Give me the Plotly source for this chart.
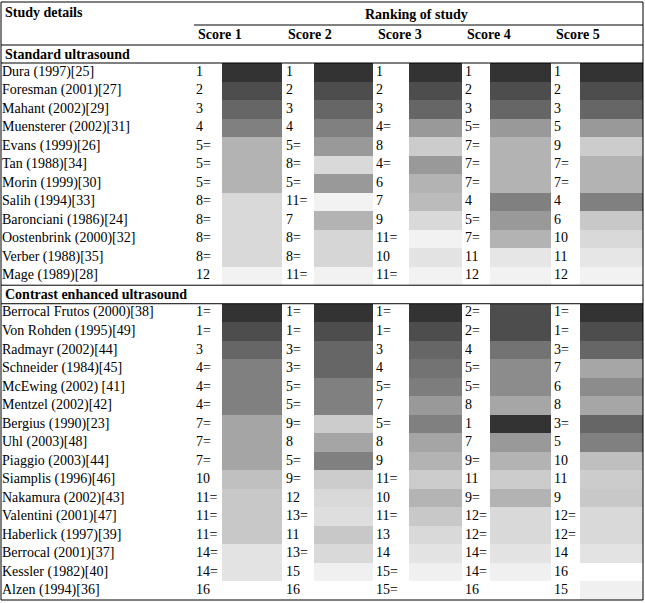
import numpy as np
import plotly.graph_objects as go

# ---- data ----
scores = ["Score 1", "Score 2", "Score 3", "Score 4", "Score 5"]

std_studies = ["Dura (1997)[25]", "Foresman (2001)[27]", "Mahant (2002)[29]", "Muensterer (2002)[31]",
               "Evans (1999)[26]", "Tan (1988)[34]", "Morin (1999)[30]", "Salih (1994)[33]",
               "Baronciani (1986)[24]", "Oostenbrink (2000)[32]", "Verber (1988)[35]", "Mage (1989)[28]"]

std_rank_1 = ["1", "2", "3", "4", "5=", "5=", "5=", "8=", "8=", "8=", "8=", "12"]
std_rank_2 = ["1", "2", "3", "4", "5=", "8=", "5=", "11=", "7", "8=", "8=", "11="]
std_rank_3 = ["1", "2", "3", "4=", "8", "4=", "6", "7", "9", "11=", "10", "11="]
std_rank_4 = ["1", "2", "3", "5=", "7=", "7=", "7=", "4", "5=", "7=", "11", "12"]
std_rank_5 = ["1", "2", "3", "5", "9", "7=", "7=", "4", "6", "10", "11", "12"]

# shading of each cell, as grey level (0 = black, 255 = white)
std_shade_1 = [51, 77, 102, 128, 179, 179, 179, 217, 217, 217, 217, 242]
std_shade_2 = [51, 77, 102, 128, 153, 217, 153, 242, 179, 214, 214, 242]
std_shade_3 = [51, 77, 102, 153, 204, 153, 179, 187, 217, 242, 227, 242]
std_shade_4 = [51, 77, 102, 153, 179, 179, 179, 128, 153, 179, 230, 242]
std_shade_5 = [51, 77, 102, 153, 204, 179, 179, 128, 200, 217, 230, 242]

ceu_studies = ["Berrocal Frutos (2000)[38]", "Von Rohden (1995)[49]", "Radmayr (2002)[44]",
               "Schneider (1984)[45]", "McEwing (2002) [41]", "Mentzel (2002)[42]", "Bergius (1990)[23]",
               "Uhl (2003)[48]", "Piaggio (2003)[44]", "Siamplis (1996)[46]", "Nakamura (2002)[43]",
               "Valentini (2001)[47]", "Haberlick (1997)[39]", "Berrocal (2001)[37]", "Kessler (1982)[40]",
               "Alzen (1994)[36]"]

ceu_rank_1 = ["1=", "1=", "3", "4=", "4=", "4=", "7=", "7=", "7=", "10", "11=", "11=", "11=", "14=", "14=", "16"]
ceu_rank_2 = ["1=", "1=", "3=", "3=", "5=", "5=", "9=", "8", "5=", "9=", "12", "13=", "11", "13=", "15", "16"]
ceu_rank_3 = ["1=", "1=", "3", "4", "5=", "7", "5=", "8", "9", "11=", "10", "11=", "13", "14", "15=", "15="]
ceu_rank_4 = ["2=", "2=", "4", "5=", "5=", "8", "1", "7", "9=", "11", "9=", "12=", "12=", "14=", "14=", "16"]
ceu_rank_5 = ["1=", "1=", "3=", "7", "6", "8", "3=", "5", "10", "11", "9", "12=", "12=", "14", "16", "15"]

ceu_shade_1 = [51, 77, 102, 128, 128, 128, 165, 165, 165, 192, 200, 200, 200, 227, 227, 255]
ceu_shade_2 = [51, 77, 102, 102, 128, 128, 204, 165, 128, 204, 217, 222, 200, 217, 240, 255]
ceu_shade_3 = [51, 77, 102, 115, 125, 153, 128, 165, 179, 204, 180, 200, 217, 227, 240, 255]
ceu_shade_4 = [77, 77, 115, 140, 140, 166, 51, 153, 179, 204, 179, 217, 217, 227, 240, 255]
ceu_shade_5 = [51, 77, 102, 166, 140, 166, 102, 128, 191, 204, 200, 217, 217, 227, 255, 240]

# ---- table assembly ----
W, H = 645, 603
FONT = "Liberation Serif"
FS = 14

std_ranks = [std_rank_1, std_rank_2, std_rank_3, std_rank_4, std_rank_5]
ceu_ranks = [ceu_rank_1, ceu_rank_2, ceu_rank_3, ceu_rank_4, ceu_rank_5]
std_shades = [std_shade_1, std_shade_2, std_shade_3, std_shade_4, std_shade_5]
ceu_shades = [ceu_shade_1, ceu_shade_2, ceu_shade_3, ceu_shade_4, ceu_shade_5]

# rows: standard block, one section header row, contrast block
n_std = len(std_studies)
row_std = list(range(n_std))
row_ceu = [n_std + 1 + i for i in range(len(ceu_studies))]
n_rows = n_std + 1 + len(ceu_studies)

# column layout (pixels): number column start, shaded cell start/end
num_x = [196, 286, 376, 465, 554]
cell_x0 = [222, 314, 409, 490, 580]
cell_x1 = [282, 373, 462, 551, 643]

# heatmap column edges: number column, then shaded column, for each score
edges = []
for k in range(5):
    edges += [num_x[k] if k == 0 else cell_x1[k - 1], cell_x0[k]]
edges.append(cell_x1[-1])

z = np.full((n_rows, 10), np.nan)
for k in range(5):
    for i, r in enumerate(row_std):
        z[r, 2 * k + 1] = std_shades[k][i]
    for i, r in enumerate(row_ceu):
        z[r, 2 * k + 1] = ceu_shades[k][i]

fig = go.Figure()
fig.add_trace(go.Heatmap(
    z=z, x=edges, y=list(range(n_rows)),
    colorscale=[[0, "black"], [1, "white"]], zmin=0, zmax=255,
    showscale=False, hoverinfo="skip"))

# study names
fig.add_trace(go.Scatter(
    x=[2] * (n_std + len(ceu_studies)), y=row_std + row_ceu,
    text=std_studies + ceu_studies, mode="text", textposition="middle right",
    textfont=dict(family=FONT, size=FS, color="black"), hoverinfo="skip"))

# rank numbers
for k in range(5):
    fig.add_trace(go.Scatter(
        x=[num_x[k]] * (n_std + len(ceu_studies)), y=row_std + row_ceu,
        text=std_ranks[k] + ceu_ranks[k], mode="text", textposition="middle right",
        textfont=dict(family=FONT, size=FS, color="black"), hoverinfo="skip"))


def py(p):
    return 1 - p / H


line = dict(color="black", width=1)
shapes = [
    dict(type="rect", xref="paper", yref="paper", x0=1 / W, x1=643 / W, y0=py(600), y1=py(2), line=line),
    dict(type="line", xref="paper", yref="paper", x0=194 / W, x1=643 / W, y0=py(25), y1=py(25), line=line),
    dict(type="line", xref="paper", yref="paper", x0=1 / W, x1=643 / W, y0=py(45), y1=py(45), line=line),
    dict(type="line", xref="paper", yref="paper", x0=1 / W, x1=643 / W, y0=py(63), y1=py(63), line=line),
    dict(type="line", xref="paper", yref="y", x0=1 / W, x1=643 / W, y0=n_std - 0.5, y1=n_std - 0.5, line=line),
    dict(type="line", xref="paper", yref="y", x0=1 / W, x1=643 / W, y0=n_std + 0.5, y1=n_std + 0.5, line=line),
]

annotations = [
    dict(text="<b>Study details</b>", x=3 / W, y=py(12), xanchor="left", yanchor="middle"),
    dict(text="<b>Ranking of study</b>", x=416 / W, y=py(15), xanchor="center", yanchor="middle"),
    dict(text="<b>Standard ultrasound</b>", x=3 / W, y=py(54), xanchor="left", yanchor="middle"),
    dict(text="<b>Contrast enhanced ultrasound</b>", x=3 / W, y=n_std, yref="y",
         xanchor="left", yanchor="middle"),
]
for k, s in enumerate(scores):
    annotations.append(dict(text="<b>" + s + "</b>", x=num_x[k] / W, y=py(35),
                            xanchor="left", yanchor="middle"))
for a in annotations:
    a.setdefault("xref", "paper")
    a.setdefault("yref", "paper")
    a["showarrow"] = False
    a["font"] = dict(family=FONT, size=FS, color="black")

fig.update_layout(
    width=W, height=H, margin=dict(l=0, r=0, t=0, b=0),
    paper_bgcolor="white", plot_bgcolor="white", showlegend=False,
    xaxis=dict(range=[0, W], visible=False, fixedrange=True),
    yaxis=dict(range=[n_rows - 0.5, -0.5], domain=[1 - 600 / H, 1 - 63 / H], visible=False, fixedrange=True),
    shapes=shapes, annotations=annotations,
)

fig.write_html("out.html", config={"displayModeBar": False},
               post_script="document.body.style.margin='0';document.body.style.overflow='hidden';")
